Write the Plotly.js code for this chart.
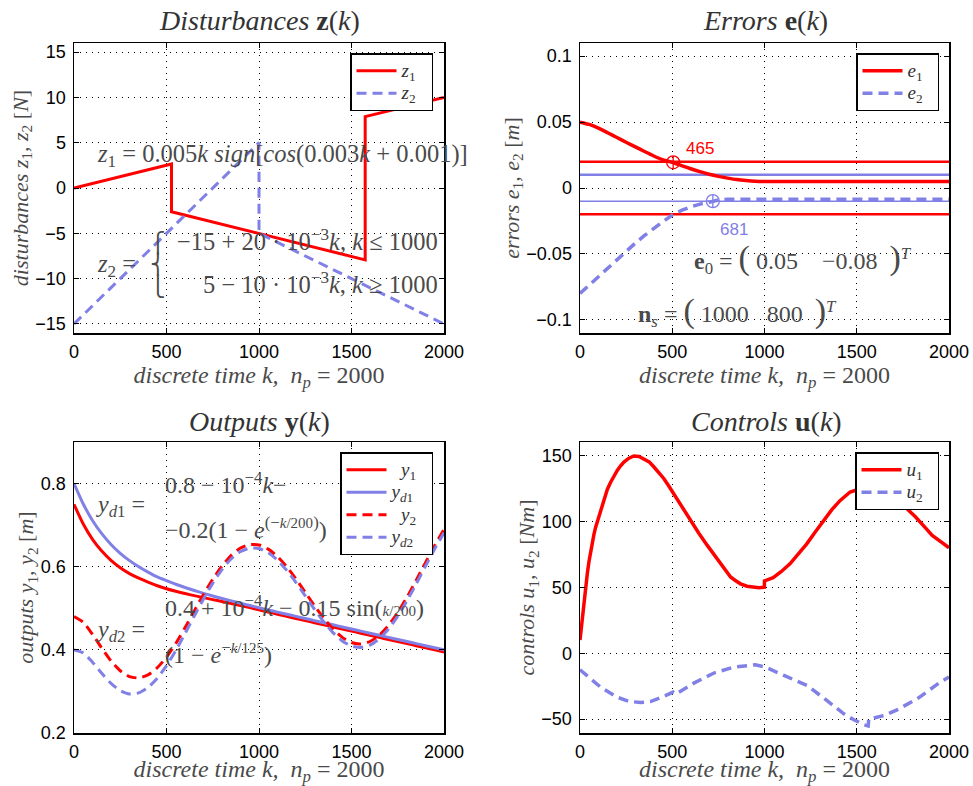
<!DOCTYPE html>
<html><head><meta charset="utf-8">
<script src="https://cdn.plot.ly/plotly-3.0.1.min.js"></script>
<style>html,body{margin:0;padding:0;background:#fff}#chart{width:973px;height:786px}</style>
</head><body><div id="chart"></div>
<script>
// ---------- data ----------
const kTicks = [0, 500, 1000, 1500, 2000];
const kTickText = ['0', '500', '1000', '1500', '2000'];

// Disturbances
const k_z1 = [0, 527, 527, 1574, 1574, 2000];
const z1   = [0, 2.65, -2.63, -7.93, 7.88, 10.0];
const k_z2 = [0, 1000, 1000, 2000];
const z2   = [-15, 5, -5, -15];
const zTicks = [-15, -10, -5, 0, 5, 10, 15];
const zTickText = ['\u221215', '\u221210', '\u22125', '0', '5', '10', '15'];

// Errors
const k_e1 = [0, 50, 100, 150, 200, 250, 300, 350, 400, 450, 500, 550, 600, 650, 700, 750, 800, 850, 900, 950, 1000, 2000];
const e1   = [0.050, 0.0482, 0.0454, 0.0419, 0.0383, 0.0347, 0.0312, 0.0277, 0.0243, 0.0213, 0.0195, 0.0170, 0.0146, 0.0124, 0.0104, 0.0088, 0.0075, 0.0064, 0.0057, 0.0052, 0.0050, 0.0050];
const k_e2 = [0, 50, 100, 150, 200, 250, 300, 350, 400, 450, 500, 550, 600, 650, 700, 720, 760, 800, 2000];
const e2   = [-0.080, -0.0735, -0.067, -0.0605, -0.054, -0.0478, -0.0418, -0.036, -0.0305, -0.0255, -0.0205, -0.017, -0.0143, -0.0122, -0.0108, -0.0100, -0.0088, -0.0085, -0.0085];
const k_tol = [0, 2000];
const tolE1 = 0.02;
const tolE2 = 0.01;
const k_m1 = [505];  const e_m1 = [0.0195]; const lab_m1 = '465';
const k_m2 = [720];  const e_m2 = [-0.0100]; const lab_m2 = '681';
const eTicks = [-0.1, -0.05, 0, 0.05, 0.1];
const eTickText = ['\u22120.1', '\u22120.05', '0', '0.05', '0.1'];

// Outputs
const k_y = [0,50,100,150,200,250,300,350,400,450,500,550,600,650,700,750,800,850,900,950,1000,1050,1100,1150,1200,1250,1300,1350,1400,1450,1500,1550,1600,1650,1700,1750,1800,1850,1900,1950,2000];
const y1  = [0.7500,0.7026,0.6659,0.6376,0.6153,0.5975,0.5834,0.5723,0.5628,0.5542,0.5469,0.5408,0.5354,0.5304,0.5256,0.5209,0.5162,0.5114,0.5065,0.5015,0.4963,0.4910,0.4858,0.4806,0.4755,0.4704,0.4653,0.4602,0.4552,0.4501,0.4451,0.4401,0.4351,0.4300,0.4250,0.4200,0.4150,0.4100,0.4050,0.4000,0.3950];
const yd1 = [0.8000,0.7508,0.7113,0.6795,0.6536,0.6322,0.6146,0.6000,0.5871,0.5755,0.5664,0.5578,0.5500,0.5428,0.5360,0.5297,0.5237,0.5178,0.5122,0.5067,0.5013,0.4960,0.4908,0.4856,0.4805,0.4754,0.4703,0.4652,0.4602,0.4551,0.4501,0.4451,0.4401,0.4350,0.4300,0.4250,0.4200,0.4150,0.4100,0.4050,0.4000];
const y2  = [0.4800,0.4663,0.4374,0.4041,0.3733,0.3497,0.3357,0.3324,0.3397,0.3570,0.3824,0.4154,0.4533,0.4933,0.5332,0.5696,0.6018,0.6276,0.6450,0.6533,0.6523,0.6423,0.6243,0.5997,0.5704,0.5385,0.5062,0.4760,0.4500,0.4300,0.4178,0.4143,0.4201,0.4351,0.4587,0.4898,0.5267,0.5674,0.6098,0.6514,0.6901];
const yd2 = [0.4000,0.3928,0.3704,0.3436,0.3193,0.3019,0.2939,0.2964,0.3092,0.3315,0.3619,0.3984,0.4390,0.4811,0.5224,0.5605,0.5933,0.6191,0.6365,0.6448,0.6438,0.6338,0.6158,0.5912,0.5619,0.5300,0.4977,0.4675,0.4415,0.4215,0.4093,0.4058,0.4116,0.4266,0.4502,0.4813,0.5182,0.5589,0.6013,0.6429,0.6816];
const yTicks = [0.2, 0.4, 0.6, 0.8];
const yTickText = ['0.2', '0.4', '0.6', '0.8'];

// Controls
const k_u1 = [0,5,10,15,20,27,33,40,49,58,66,75,84,94,112,130,148,166,184,202,220,238,265,292,320,346,375,401,428,455,482,509,527,563,600,645,690,735,780,798,816,840,870,905,942,970,999,1000,1047,1090,1138,1183,1228,1274,1319,1364,1409,1437,1464,1520,1570,1620,1680,1730,1775,1819,1864,1909,1955,2000];
const u1   = [10,17,24,31,37,47,53,61,70,78,84.5,90,95.5,100,109.5,117.5,124.5,130,135,139,142.5,145.4,148.3,150,149.6,148,145.5,141.6,137.5,132.7,127,121,116.5,108.5,100.5,91,82,73.3,65,61.7,58,55.5,52.8,51,50,49.8,50.2,55,57.4,62,68,75,83,92,101,109,116,119.5,122.6,125,125.5,124,120,115.5,109.8,103.6,96.7,89.6,84.8,80.2];
const k_u2 = [0,112,202,265,328,382,454,505,520,560,617,726,834,951,1005,1105,1231,1339,1430,1484,1538,1562,1565,1592,1646,1718,1827,1953,2000];
const u2   = [-12.5,-25.8,-33.4,-36.5,-37.5,-36.7,-32.7,-29.5,-31,-27.5,-22.7,-15,-10.5,-8.7,-10.5,-16.8,-24.5,-36,-46,-50.5,-54.3,-55.2,-50,-49.2,-47.4,-43,-34.7,-21.9,-18];
const uTicks = [-50, 0, 50, 100, 150];
const uTickText = ['\u221250', '0', '50', '100', '150'];

// ---------- styling ----------
const W = 973, H = 786;
const px = x => x / W;
const py = y => 1 - y / H;
const RED = '#ff0000', BLUE = 'rgb(128,128,230)';
const SERIF = 'Liberation Serif, Times New Roman, serif';
const SANS = 'Liberation Sans, Arial, sans-serif';
const DASH = '10px,6px';
const GRAY = '#4a4a4a';
const XTITLE = '<i>discrete time k,  n</i><sub><i>p</i></sub> = 2000';
const SP = '\u00a0';
const LG = s => '<span style="font-size:19px">' + s + '</span>';

function xax(l, r, anchor) {
  return {
    domain: [px(l), px(r)], anchor: anchor, range: [0, 2000],
    tickmode: 'array', tickvals: kTicks, ticktext: kTickText,
    showgrid: true, gridcolor: '#000', gridwidth: 1, griddash: '1px,5px',
    showline: true, linecolor: '#000', linewidth: 1.5, mirror: 'ticks',
    ticks: 'inside', ticklen: 5, tickcolor: '#000', zeroline: false,
    tickfont: {family: SANS, size: 18, color: '#000'}, ticklabelstandoff: 2,
    title: {text: XTITLE, font: {family: SERIF, size: 24, color: GRAY}, standoff: 0},
    fixedrange: true
  };
}
function yax(t, b, anchor, range, tv, tt, title, standoff) {
  return {
    domain: [py(b), py(t)], anchor: anchor, range: range,
    tickmode: 'array', tickvals: tv, ticktext: tt,
    showgrid: true, gridcolor: '#000', gridwidth: 1, griddash: '1px,5px',
    showline: true, linecolor: '#000', linewidth: 1.5, mirror: 'ticks',
    ticks: 'inside', ticklen: 5, tickcolor: '#000', zeroline: false,
    tickfont: {family: SANS, size: 18, color: '#000'}, ticklabelstandoff: 3,
    title: {text: title, font: {family: SERIF, size: 22, color: GRAY}, standoff: standoff},
    fixedrange: true
  };
}
function leg(xr, yt) {
  return {x: px(xr), y: py(yt), xanchor: 'right', yanchor: 'top', bgcolor: '#fff',
          bordercolor: '#000', borderwidth: 1.5, tracegroupgap: 0, itemwidth: 40,
          font: {family: SERIF, size: 15, color: '#333'}};
}

const traces = [
  {x: k_z1, y: z1, name: LG('<i>z</i><sub>1</sub>' + SP + SP), mode: 'lines', line: {color: RED, width: 3}, xaxis: 'x', yaxis: 'y', legend: 'legend'},
  {x: k_z2, y: z2, name: LG('<i>z</i><sub>2</sub>' + SP + SP), mode: 'lines', line: {color: BLUE, width: 3, dash: DASH}, xaxis: 'x', yaxis: 'y', legend: 'legend'},

  {x: k_tol, y: k_tol.map(() => tolE1), mode: 'lines', line: {color: RED, width: 2.5}, xaxis: 'x2', yaxis: 'y2', showlegend: false, hoverinfo: 'skip'},
  {x: k_tol, y: k_tol.map(() => -tolE1), mode: 'lines', line: {color: RED, width: 2.5}, xaxis: 'x2', yaxis: 'y2', showlegend: false, hoverinfo: 'skip'},
  {x: k_tol, y: k_tol.map(() => tolE2), mode: 'lines', line: {color: BLUE, width: 2.5}, xaxis: 'x2', yaxis: 'y2', showlegend: false, hoverinfo: 'skip'},
  {x: k_tol, y: k_tol.map(() => -tolE2), mode: 'lines', line: {color: BLUE, width: 1.5}, xaxis: 'x2', yaxis: 'y2', showlegend: false, hoverinfo: 'skip'},
  {x: k_e1, y: e1, name: LG('<i>e</i><sub>1</sub>' + SP + SP), mode: 'lines', line: {color: RED, width: 3.5, shape: 'spline', smoothing: 0.5}, xaxis: 'x2', yaxis: 'y2', legend: 'legend2'},
  {x: k_e2, y: e2, name: LG('<i>e</i><sub>2</sub>' + SP + SP), mode: 'lines', line: {color: BLUE, width: 3.5, dash: DASH}, xaxis: 'x2', yaxis: 'y2', legend: 'legend2'},
  {x: k_m1, y: e_m1, mode: 'markers', marker: {symbol: 'circle-cross-open', size: 13, color: RED, line: {width: 1.3, color: RED}}, xaxis: 'x2', yaxis: 'y2', showlegend: false},
  {x: k_m2, y: e_m2, mode: 'markers', marker: {symbol: 'circle-cross-open', size: 13, color: BLUE, line: {width: 1.3, color: BLUE}}, xaxis: 'x2', yaxis: 'y2', showlegend: false},

  {x: k_y, y: y1, name: LG(SP + SP + '<i>y</i><sub>1</sub>' + SP + SP), mode: 'lines', line: {color: RED, width: 3, shape: 'spline', smoothing: 0.6}, xaxis: 'x3', yaxis: 'y3', legend: 'legend3'},
  {x: k_y, y: yd1, name: LG('<i>y</i><sub><i>d</i>1</sub>'), mode: 'lines', line: {color: BLUE, width: 3, shape: 'spline', smoothing: 0.6}, xaxis: 'x3', yaxis: 'y3', legend: 'legend3'},
  {x: k_y, y: y2, name: LG(SP + SP + '<i>y</i><sub>2</sub>'), mode: 'lines', line: {color: RED, width: 3, dash: DASH, shape: 'spline', smoothing: 0.6}, xaxis: 'x3', yaxis: 'y3', legend: 'legend3'},
  {x: k_y, y: yd2, name: LG('<i>y</i><sub><i>d</i>2</sub>'), mode: 'lines', line: {color: BLUE, width: 3, dash: DASH, shape: 'spline', smoothing: 0.6}, xaxis: 'x3', yaxis: 'y3', legend: 'legend3'},

  {x: k_u1, y: u1, name: LG('<i>u</i><sub>1</sub>' + SP + SP), mode: 'lines', line: {color: RED, width: 3.5}, xaxis: 'x4', yaxis: 'y4', legend: 'legend4'},
  {x: k_u2, y: u2, name: LG('<i>u</i><sub>2</sub>' + SP + SP), mode: 'lines', line: {color: BLUE, width: 3.5, dash: DASH}, xaxis: 'x4', yaxis: 'y4', legend: 'legend4'}
];

function note(text, x, y, xanchor, size, color, family) {
  return {text: text, xref: 'paper', yref: 'paper', x: px(x), y: py(y), xanchor: xanchor || 'left', yanchor: 'middle',
          showarrow: false, font: {family: family || SERIF, size: size || 24, color: color || GRAY}};
}
const BIGL = '<span style="font-size:34px">(</span>';
const BIGR = '<span style="font-size:34px">)</span>';
const FR = s => '<span style="font-size:15px">' + s + '</span>';
const BR = s => '<span style="font-size:20.5px">' + s + '</span>';
const annotations = [
  note('<i>Disturbances</i> <b>z</b>(<i>k</i>)', 259, 21, 'center', 28, '#333'),
  note('<i>Errors</i> <b>e</b>(<i>k</i>)', 765, 21, 'center', 28, '#333'),
  note('<i>Outputs</i> <b>y</b>(<i>k</i>)', 259, 421, 'center', 28, '#333'),
  note('<i>Controls</i> <b>u</b>(<i>k</i>)', 766, 421, 'center', 28, '#333'),

  note('<i>z</i><sub>1</sub> = 0.005<i>k sign</i>[<i>cos</i>(0.003<i>k</i> + 0.001)]', 95, 155, 'left', 24.5),
  note('<i>z</i><sub>2</sub> =', 95, 265, 'left', 24.5),
  note(BR('\u23a7') + '<br>' + BR('\u23a8') + '<br>' + BR('\u23a9'), 157, 264, 'center', 16.5, GRAY, 'DejaVu Sans'),
  note('\u221215 + 20 \u00b7 10<sup>\u22123</sup><i>k</i>, <i>k</i> \u2264 1000', 440, 240, 'right', 24.5),
  note('5 \u2212 10 \u00b7 10<sup>\u22123</sup><i>k</i>, <i>k</i> \u2265 1000', 440, 283, 'right', 24.5),

  note('<b>e</b><sub>0</sub> = ' + BIGL + SP + '0.05' + SP + SP + SP + SP + '\u22120.08' + SP + SP + BIGR + '<sup><i>T</i></sup>', 692, 258),
  note('<b>n</b><sub><i>s</i></sub> = ' + BIGL + SP + '1000' + SP + SP + SP + '800' + SP + SP + BIGR + '<sup><i>T</i></sup>', 636, 311),

  note('<i>y</i><sub><i>d</i>1</sub> =', 94, 506),
  note('0.8 \u2212 10<sup>\u22124</sup><i>k</i>\u2212', 163, 483),
  note('\u22120.2(1 \u2212 <i>e</i><sup>(\u2212' + FR('<i>k</i>/200') + ')</sup>)', 163, 528),
  note('0.4 + 10<sup>\u22124</sup><i>k</i> \u2212 0.15 sin(' + FR('<i>k</i>/200') + ')', 163, 606),
  note('<i>y</i><sub><i>d</i>2</sub> =', 94, 631),
  note('(1 \u2212 <i>e</i><sup>\u2212' + FR('<i>k</i>/125') + '</sup>)', 163, 653),

  {text: lab_m1, xref: 'x2', yref: 'y2', x: k_m1[0], y: e_m1[0], xshift: 27, yshift: 14, showarrow: false, font: {family: SANS, size: 17, color: RED}},
  {text: lab_m2, xref: 'x2', yref: 'y2', x: k_m2[0], y: e_m2[0], xshift: 21, yshift: -28, showarrow: false, font: {family: SANS, size: 17, color: BLUE}}
];

const layout = {
  width: W, height: H, margin: {l: 0, r: 0, t: 0, b: 0},
  paper_bgcolor: '#fff', plot_bgcolor: '#fff', showlegend: true,
  xaxis: xax(74, 444, 'y'),
  yaxis: yax(43, 333, 'x', [-16, 16], zTicks, zTickText, '<i>disturbances z</i><sub>1</sub><i>, z</i><sub>2</sub> [<i>N</i>]', 0),
  xaxis2: xax(580, 949, 'y2'),
  yaxis2: yax(43, 333, 'x2', [-0.11, 0.11], eTicks, eTickText, '<i>errors e</i><sub>1</sub><i>, e</i><sub>2</sub> [<i>m</i>]', 0),
  xaxis3: xax(74, 444, 'y3'),
  yaxis3: yax(442, 733, 'x3', [0.2, 0.9], yTicks, yTickText, '<i>outputs y</i><sub>1</sub><i>, y</i><sub>2</sub> [<i>m</i>]', 0),
  xaxis4: xax(580, 949, 'y4'),
  yaxis4: yax(442, 733, 'x4', [-60.6, 160.6], uTicks, uTickText, '<i>controls u</i><sub>1</sub><i>, u</i><sub>2</sub> [<i>Nm</i>]', 0),
  legend: leg(433, 53),
  legend2: leg(939, 53),
  legend3: leg(433, 452),
  legend4: leg(939, 452),
  annotations: annotations
};

Plotly.newPlot('chart', traces, layout, {staticPlot: true, displayModeBar: false});
</script>
</body></html>
